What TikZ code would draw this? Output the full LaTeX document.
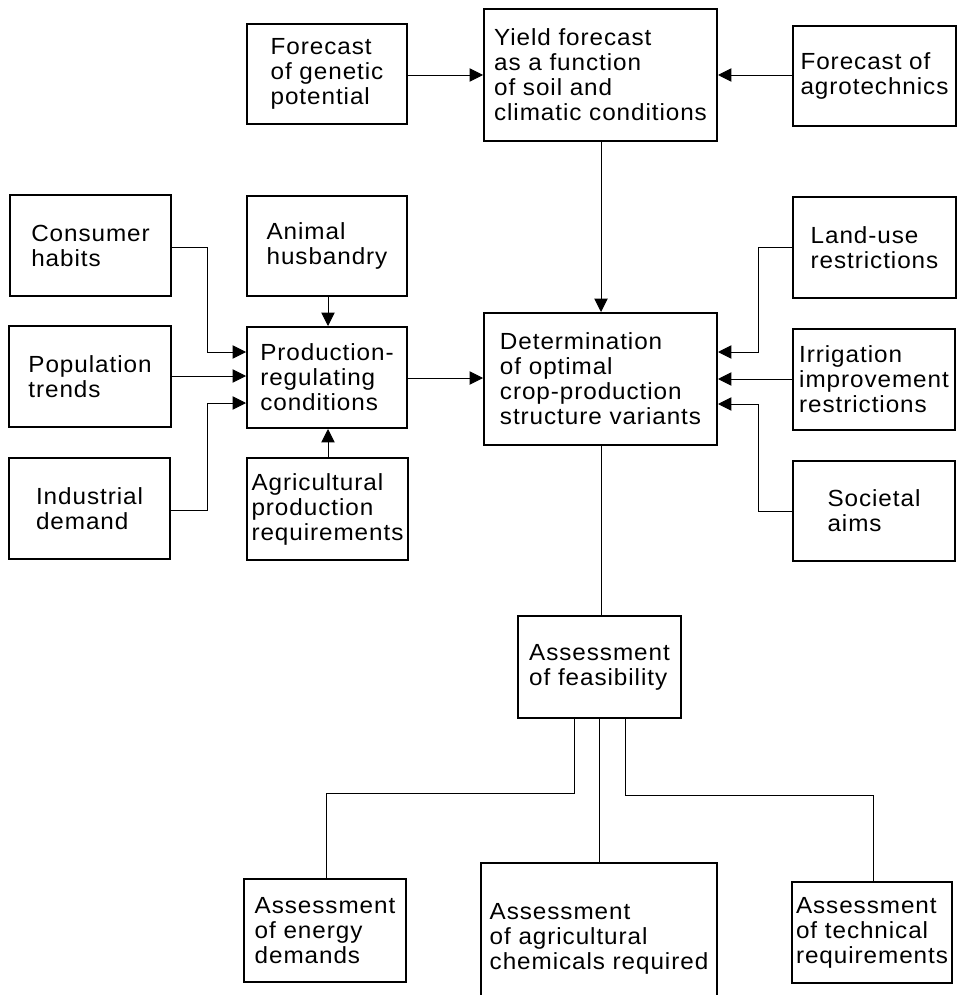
\documentclass[tikz,border=0pt]{standalone}
\usepackage{fontspec}
\setmainfont{Liberation Sans}[FakeStretch=1.04,LetterSpace=4]
\usetikzlibrary{arrows.meta,calc}
\newlength\pxu
\setlength\pxu{0.75pt}
\tikzset{
  box/.style={draw, line width=1.5pt, rectangle, align=left, inner sep=2pt,
    font={\fontsize{17.5pt}{18.75pt}\selectfont}},
  conn/.style={line width=0.7pt},
  arr/.style={conn, -{Triangle[length=10pt,width=10pt]}},
}
\begin{document}
\begin{tikzpicture}[x=0.75pt,y=-0.75pt]
\useasboundingbox (0,0) rectangle (963,995);
% top row
\node[box, minimum width=160*\pxu, minimum height=100*\pxu] (fg) at (327,74) {Forecast\\of genetic\\potential};
\node[box, minimum width=233*\pxu, minimum height=132*\pxu] (yf) at (600.5,75) {Yield forecast\\as a function\\of soil and\\climatic conditions};
\node[box, minimum width=163*\pxu, minimum height=100*\pxu] (fa) at (874.5,76) {Forecast of\\agrotechnics};
% second row
\node[box, minimum width=161*\pxu, minimum height=101*\pxu] (ch) at (90.5,245.5) {Consumer\\habits};
\node[box, minimum width=160*\pxu, minimum height=100*\pxu] (ah) at (327,246) {Animal\\husbandry};
\node[box, minimum width=163*\pxu, minimum height=101*\pxu] (lu) at (874.5,247.5) {Land-use\\restrictions};
% third row
\node[box, minimum width=162*\pxu, minimum height=101*\pxu] (pt) at (90,376.5) {Population\\trends};
\node[box, minimum width=160*\pxu, minimum height=101*\pxu] (pr) at (327,377.5) {Production-\\regulating\\conditions};
\node[box, minimum width=233*\pxu, minimum height=132*\pxu] (det) at (600.5,379) {Determination\\of optimal\\crop-production\\structure variants};
\node[box, minimum width=162*\pxu, minimum height=101*\pxu] (ir) at (874,379.5) {Irrigation\\improvement\\restrictions};
% fourth row
\node[box, minimum width=161*\pxu, minimum height=101*\pxu] (id) at (89.5,508.5) {Industrial\\demand};
\node[box, minimum width=161*\pxu, minimum height=102*\pxu] (ap) at (327.5,509) {Agricultural\\production\\requirements};
\node[box, minimum width=162*\pxu, minimum height=100*\pxu] (sa) at (874,511) {Societal\\aims};
% feasibility
\node[box, minimum width=163*\pxu, minimum height=102*\pxu] (af) at (599.5,667) {Assessment\\of feasibility};
% bottom row
\node[box, minimum width=162*\pxu, minimum height=103*\pxu] (en) at (325,930.5) {Assessment\\of energy\\demands};
\node[box, draw=none, minimum width=234*\pxu, minimum height=150*\pxu] (chem) at (599,939) {Assessment\\of agricultural\\chemicals required};
\draw[line width=1.5pt] (chem.west |- 0,1000) -- (chem.north west) -- (chem.north east) -- (chem.east |- 0,1000);
\node[box, minimum width=160*\pxu, minimum height=101*\pxu] (tr) at (872,932.5) {Assessment\\of technical\\requirements};
% connectors
\draw[arr] (fg.east |- 0,75) -- (yf.west |- 0,75);
\draw[arr] (fa.west |- 0,75) -- (yf.east |- 0,75);
\draw[arr] (yf.south -| 601,0) -- (det.north -| 601,0);
\draw[arr] (ch.east |- 0,247) -| (207,352) -- (pr.west |- 0,352);
\draw[arr] (pt.east |- 0,376) -- (pr.west |- 0,376);
\draw[arr] (id.east |- 0,510) -| (207,403) -- (pr.west |- 0,403);
\draw[arr] (ah.south -| 328,0) -- (pr.north -| 328,0);
\draw[arr] (ap.north -| 328,0) -- (pr.south -| 328,0);
\draw[arr] (pr.east |- 0,378) -- (det.west |- 0,378);
\draw[arr] (lu.west |- 0,247) -| (758,352) -- (det.east |- 0,352);
\draw[arr] (ir.west |- 0,379) -- (det.east |- 0,379);
\draw[arr] (sa.west |- 0,511) -| (758,404) -- (det.east |- 0,404);
\draw[conn] (det.south -| 601,0) -- (af.north -| 601,0);
\draw[conn] (af.south -| 574,0) |- (326,793) -- (en.north -| 326,0);
\draw[conn] (af.south -| 599,0) -- (chem.north -| 599,0);
\draw[conn] (af.south -| 625,0) |- (873,795) -- (tr.north -| 873,0);
\end{tikzpicture}
\end{document}
